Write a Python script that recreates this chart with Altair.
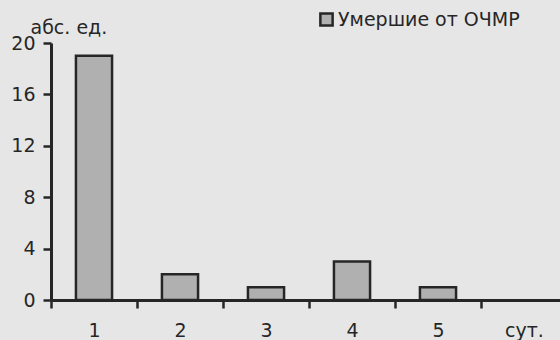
import altair as alt
import pandas as pd

categories = ["1", "2", "3", "4", "5", "сут."]
days = ["1", "2", "3", "4", "5"]
deaths = [19, 2, 1, 3, 1]
series_name = "Умершие от ОЧМР"
y_ticks = [0, 4, 8, 12, 16, 20]

df = pd.DataFrame({"day": days, "value": deaths, "series": [series_name] * len(days)})

FONT = "DejaVu Sans"
INK = "#262626"

bars = alt.Chart(df).mark_bar(
    width=alt.RelativeBandSize(0.42),
    stroke=INK,
    strokeWidth=2.5,
).encode(
    x=alt.X(
        "day:N",
        scale=alt.Scale(domain=categories, range=[0, 516], paddingInner=0, paddingOuter=0),
        axis=alt.Axis(
            title=None,
            labelAngle=0,
            ticks=True,
            tickBand="extent",
            tickSize=8,
            tickWidth=2.5,
            tickColor=INK,
            domainColor=INK,
            domainWidth=3,
            labelFont=FONT,
            labelFontSize=19,
            labelColor=INK,
            labelPadding=13,
        ),
    ),
    y=alt.Y(
        "value:Q",
        scale=alt.Scale(domain=[0, 20], nice=False),
        axis=alt.Axis(
            values=y_ticks,
            grid=False,
            ticks=True,
            title="абс. ед.",
            titleAngle=0,
            titleAlign="left",
            titleBaseline="alphabetic",
            titleX=-21,
            titleY=-10,
            titleFont=FONT,
            titleFontSize=19,
            titleFontWeight="normal",
            titleColor=INK,
            tickSize=8,
            tickWidth=2.5,
            tickColor=INK,
            domainColor=INK,
            domainWidth=3,
            labelFont=FONT,
            labelFontSize=19,
            labelColor=INK,
            labelPadding=8,
        ),
    ),
    color=alt.Color(
        "series:N",
        scale=alt.Scale(range=["#b0b0b0"]),
        legend=alt.Legend(
            title=None,
            orient="none",
            legendX=266,
            legendY=-33,
            symbolType="square",
            symbolSize=150,
            symbolStrokeColor=INK,
            symbolStrokeWidth=2.5,
            labelFont=FONT,
            labelFontSize=19,
            labelColor=INK,
            labelOffset=2,
            labelLimit=0,
        ),
    ),
).properties(
    width=509,
    height=257,
    autosize=alt.AutoSizeParams(type="none"),
    padding={"left": 51, "top": 43, "right": 0, "bottom": 40},
    background="#e6e6e6",
).configure_view(stroke=None)

bars.save("out.html", embed_options={"renderer": "svg", "actions": False})
